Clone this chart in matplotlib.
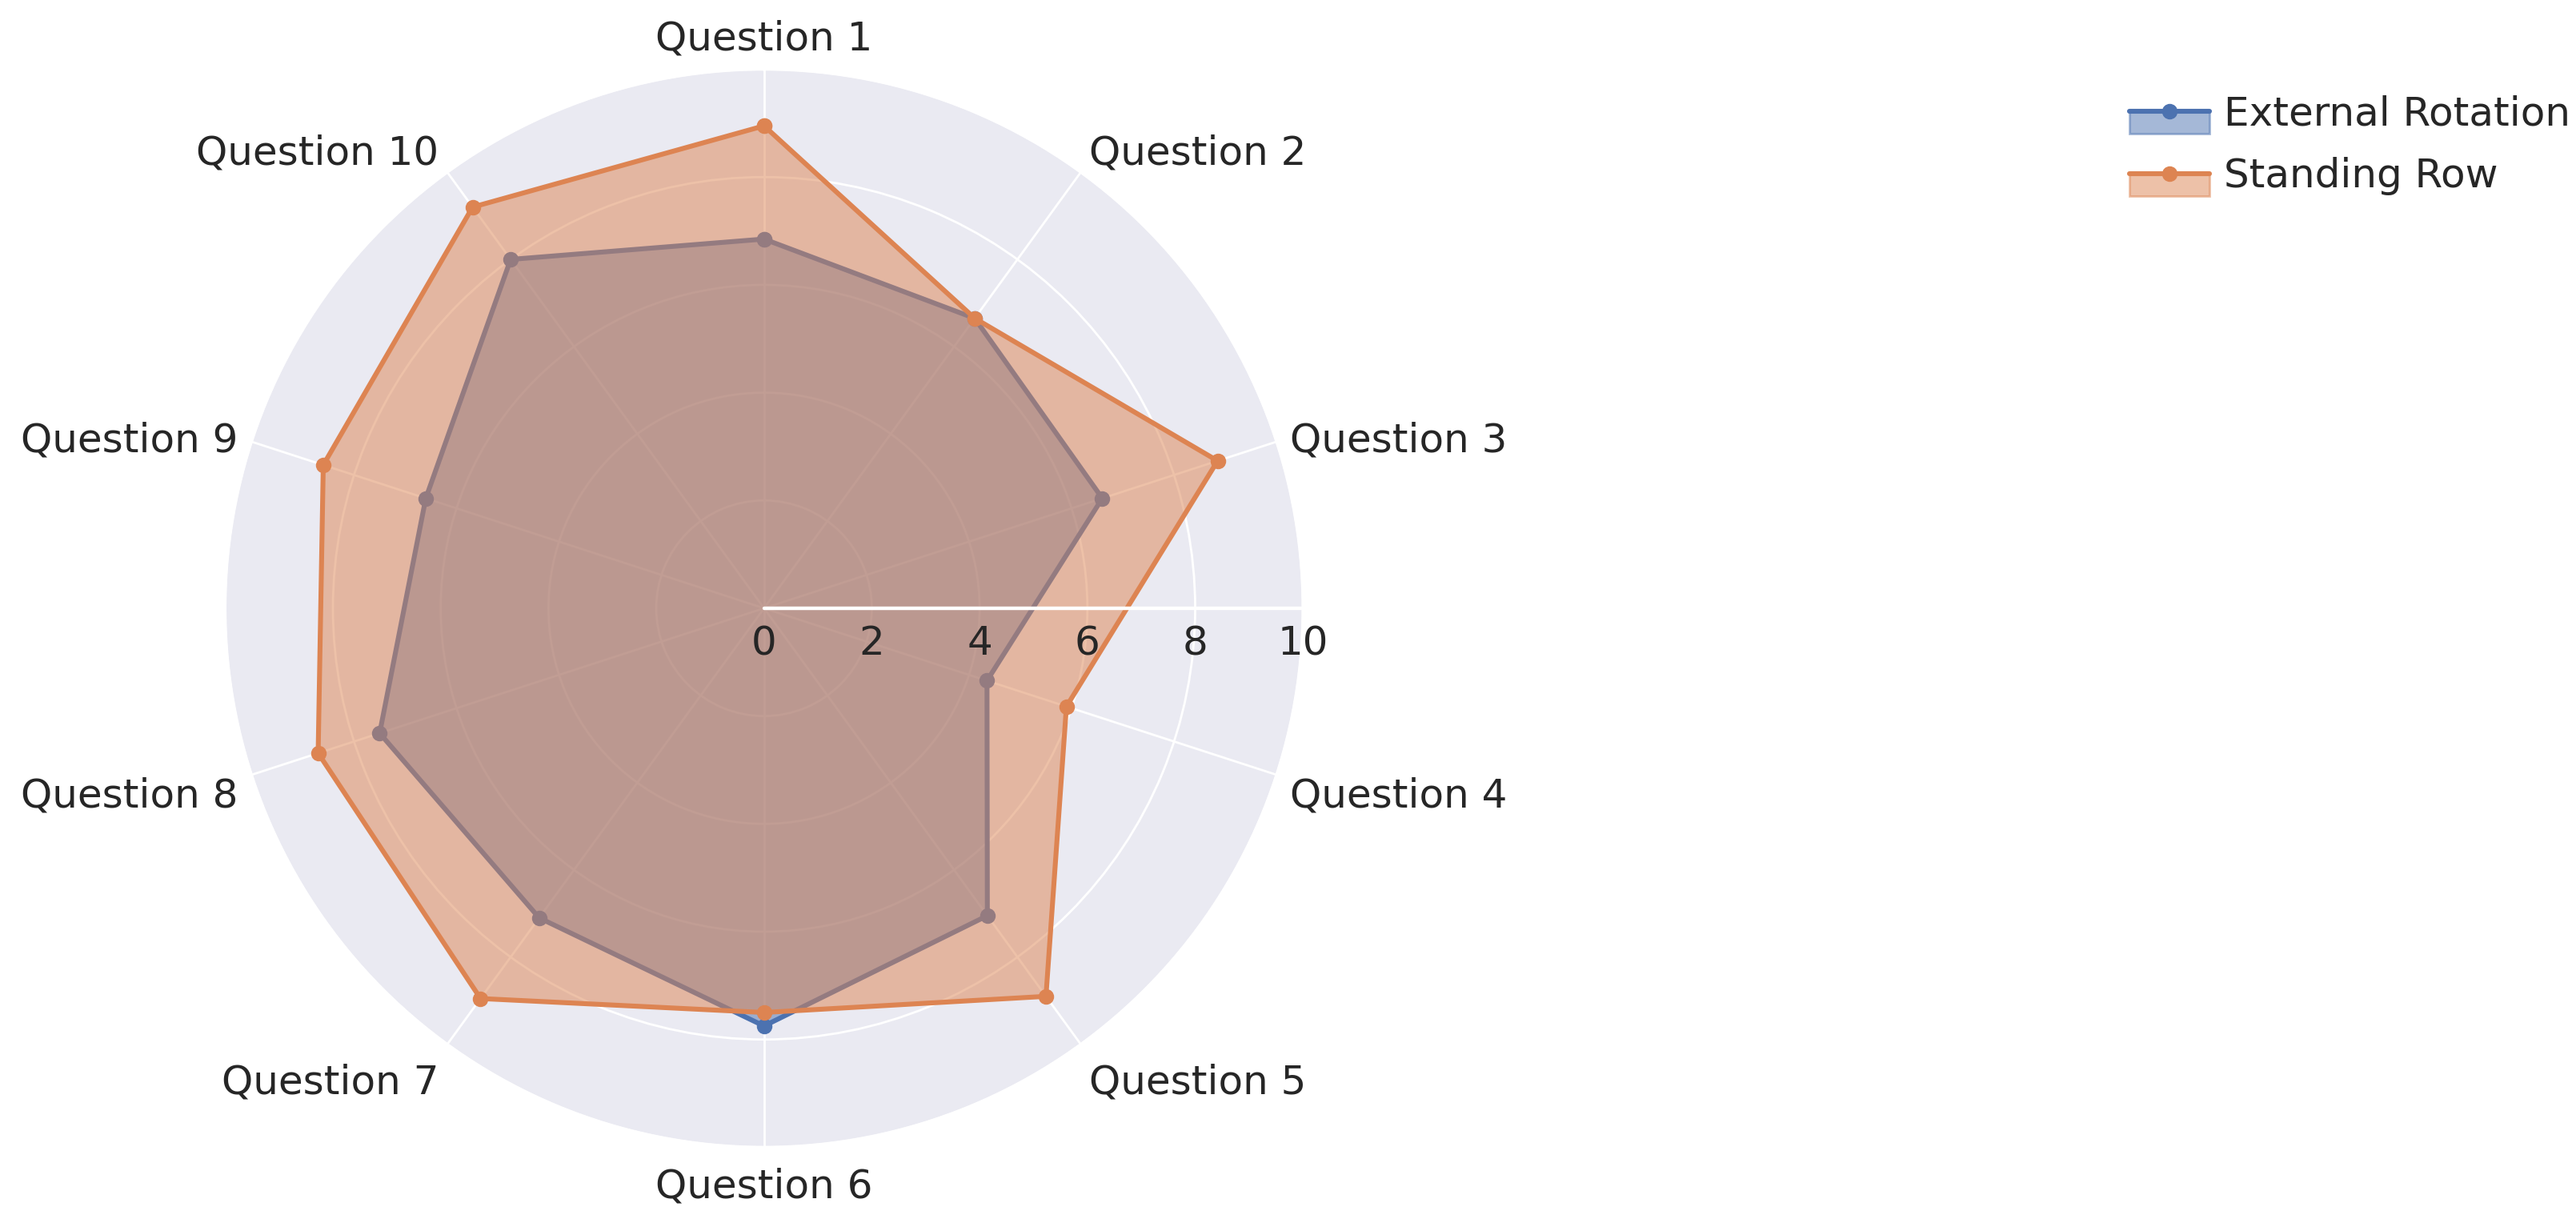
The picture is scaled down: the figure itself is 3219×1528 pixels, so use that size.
import numpy as np
import matplotlib
matplotlib.use("Agg")
import matplotlib.pyplot as plt
import seaborn as sns
from matplotlib.patches import Rectangle, Polygon
from matplotlib.legend_handler import HandlerPatch

# ------------------------------
# data
# ------------------------------
questions = [f"Question {i}" for i in range(1, 11)]
external_rotation = [6.85, 6.65, 6.6, 4.35, 7.05, 7.75, 7.1, 7.5, 6.6, 8.0]
standing_row = [8.95, 6.65, 8.85, 5.9, 8.9, 7.5, 8.95, 8.7, 8.6, 9.2]
series_names = ["External Rotation", "Standing Row"]
r_ticks = [0, 2, 4, 6, 8, 10]

sns.set_theme(style="darkgrid")
plt.rcParams['font.family'] = ['DejaVu Sans']
colors = sns.color_palette("deep")
fs = 18

angles = np.linspace(0, 2 * np.pi, len(questions), endpoint=False)

fig = plt.figure(figsize=(16.095, 7.64), dpi=200)
ax = fig.add_axes([0.0874, 0.0618, 0.4184, 0.8817], projection='polar')
ax.set_theta_offset(np.pi / 2)
ax.set_theta_direction(-1)

# each series: fill then line, second series sits on top of the first
handles = []
for i, (vals, c) in enumerate(zip([external_rotation, standing_row], colors[:2])):
    t = np.append(angles, angles[0])
    v = np.append(vals, vals[0])
    fill, = ax.fill(t, v, color=c, alpha=0.5, zorder=2 + 2 * i)
    line, = ax.plot(t, v, color=c, lw=2.2, marker='o', ms=6, zorder=3 + 2 * i)
    handles.append((fill, line))

ax.set_xticks(angles)
ax.set_xticklabels([])
ax.set_ylim(0, 10)
ax.set_yticks(r_ticks)
ax.set_yticklabels([])
ax.tick_params(size=0)

# question labels just outside the rim
rmax = ax.get_ylim()[1]
for q, a in zip(questions, angles):
    if np.isclose(a, 0) or np.isclose(a, np.pi):
        ha, dy = 'center', 15.6 * np.cos(a) - 2
    elif a < np.pi:
        ha, dy = 'left', 15.9 * np.cos(a) - 4.5
    else:
        ha, dy = 'right', 15.9 * np.cos(a) - 4.5
    ax.annotate(q, xy=(a, rmax), xytext=(6.4 * np.sin(a), dy),
                textcoords='offset points', ha=ha, va='center', fontsize=fs,
                color='#262626', annotation_clip=False)

# radial scale: white spoke to the east with numbers under it
ax.axvline(np.pi / 2, color='white', lw=1.6, zorder=10)
for r in r_ticks:
    ax.annotate(str(r), xy=(np.pi / 2, r), xytext=(0, -16), textcoords='offset points',
                ha='center', va='center', fontsize=fs, color='#262626', zorder=11)


def lower_patch(legend, orig_handle, xdescent, ydescent, width, height, fontsize):
    # band hangs below the line, like the reference legend
    return Rectangle((-xdescent, -ydescent - 0.3 * height), width, 0.8 * height)


fig.legend(handles, series_names, loc='upper left', bbox_to_anchor=(0.819, 0.939),
           frameon=False, fontsize=fs, borderpad=0, labelspacing=0.6, handletextpad=0.35,
           handler_map={Polygon: HandlerPatch(patch_func=lower_patch)})

fig.savefig("out.png", dpi=200)
